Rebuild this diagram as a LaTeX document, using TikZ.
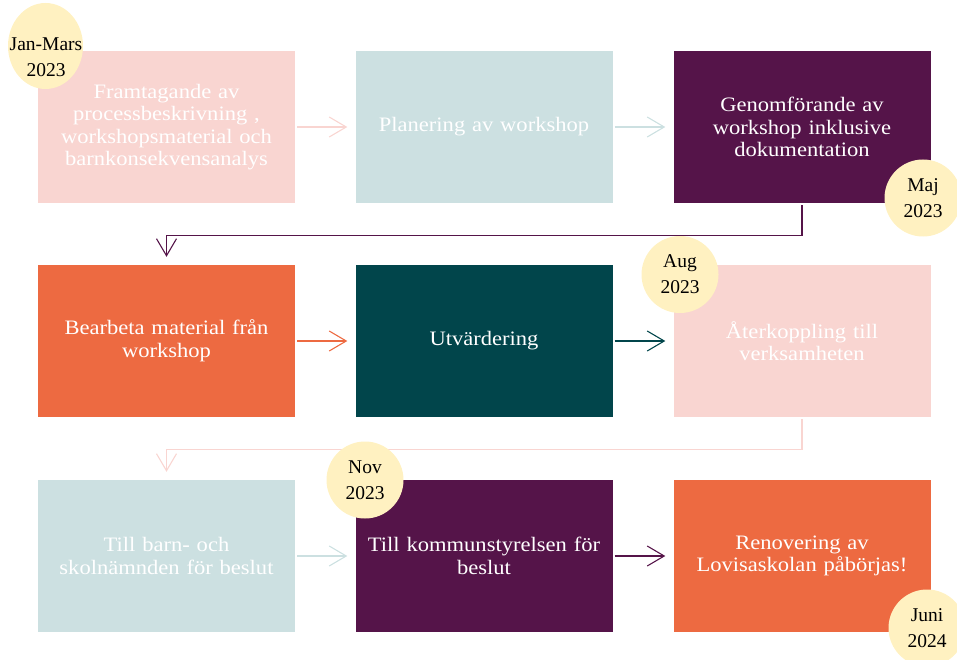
\documentclass[tikz,border=0pt]{standalone}
\usepackage{fontspec}
\setmainfont{Liberation Serif}[FakeStretch=1.1]
\newfontfamily\circfont{Liberation Serif}
\usetikzlibrary{arrows.meta,shapes.geometric}
\definecolor{pinkc}{HTML}{F9D5D1}
\definecolor{bluec}{HTML}{CCE0E1}
\definecolor{purpc}{HTML}{551449}
\definecolor{orangec}{HTML}{ED6A41}
\definecolor{tealc}{HTML}{01454B}
\definecolor{yellc}{HTML}{FFF1C1}
\tikzset{
  box/.style={minimum width=257pt, minimum height=152pt, text width=250pt, align=center, inner sep=0pt, text=white,
    font=\fontsize{20.5}{22.5}\selectfont},
  datetext/.style={align=center, text=black, inner sep=0pt, font=\circfont\fontsize{19.5}{26}\selectfont},
  datec/.style={circle, fill=yellc, minimum size=77pt, datetext},
  arr/.style={line width=1.1pt, -{Straight Barb[length=17pt, width=20pt, line width=1.1pt]}},
}
\begin{document}
\begin{tikzpicture}[x=1pt, y=-1pt]
\useasboundingbox (0,0) rectangle (957,660);
% row 1
\node[box, fill=pinkc] (b1) at (166.5,127) {Framtagande av\\processbeskrivning ,\\workshopsmaterial och\\barnkonsekvensanalys};
\node[box, fill=bluec] (b2) at (484,127) {Planering av workshop};
\node[box, fill=purpc] (b3) at (802,127) {Genomförande av\\workshop inklusive\\dokumentation};
% row 2
\node[box, fill=orangec] (b4) at (166.5,341) {Bearbeta material från\\workshop};
\node[box, fill=tealc] (b5) at (484,341) {Utvärdering};
\node[box, fill=pinkc] (b6) at (802,341) {Återkoppling till\\verksamheten};
% row 3
\node[box, fill=bluec] (b7) at (166.5,556) {Till barn- och\\skolnämnden för beslut};
\node[box, fill=purpc] (b8) at (484,556) {Till kommunstyrelsen för\\beslut};
\node[box, fill=orangec] (b9) at (802,556) {Renovering av\\Lovisaskolan påbörjas!};
% arrows
\draw[arr, pinkc] ([xshift=2pt]b1.east) -- ([xshift=-8pt]b2.west);
\draw[arr, bluec] ([xshift=2pt]b2.east) -- ([xshift=-8pt]b3.west);
\draw[arr, purpc] ([yshift=-2pt]b3.south) -- ++(0,30) -| ([yshift=8pt]b4.north);
\draw[arr, orangec] ([xshift=2pt]b4.east) -- ([xshift=-8pt]b5.west);
\draw[arr, tealc] ([xshift=2pt]b5.east) -- ([xshift=-8pt]b6.west);
\draw[arr, pinkc] ([yshift=-2pt]b6.south) -- ++(0,30) -| ([yshift=8pt]b7.north);
\draw[arr, bluec] ([xshift=2pt]b7.east) -- ([xshift=-8pt]b8.west);
\draw[arr, purpc] ([xshift=2pt]b8.east) -- ([xshift=-8pt]b9.west);
% date circles
\node[ellipse, fill=yellc, minimum width=75pt, minimum height=86pt, inner sep=0pt] (d1) at (45.5,46) {};
\node[datetext] (d1t) at (46,57) {Jan-Mars\\2023};
\node[datec] (d2) at (923,198) {Maj\\2023};
\node[datec] (d3) at (680,274.5) {Aug\\2023};
\node[datec] (d4) at (365,480) {Nov\\2023};
\node[datec] (d5) at (927,628) {Juni\\2024};
\end{tikzpicture}
\end{document}
